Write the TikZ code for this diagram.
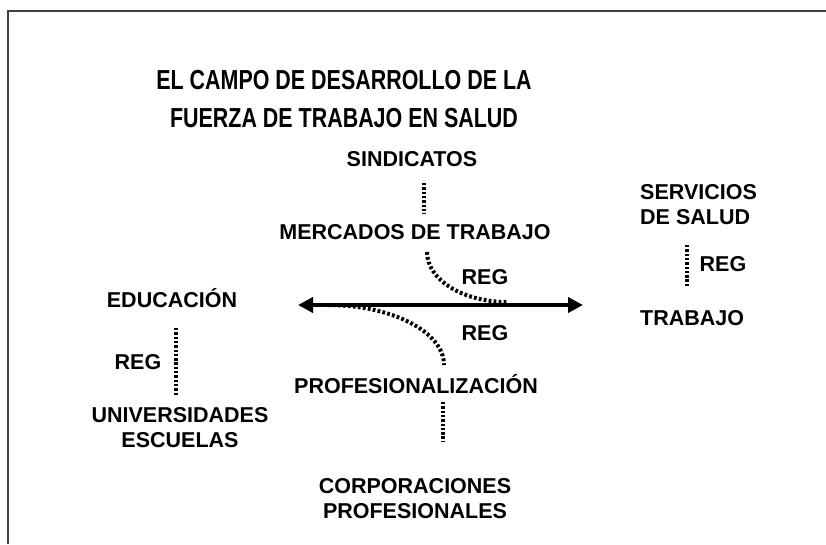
\documentclass[tikz,border=0pt]{standalone}
\usepackage{fontspec}
\setmainfont{Liberation Sans}
\newfontfamily\titlefont{Liberation Sans}[FakeStretch=0.78]
\usetikzlibrary{arrows.meta}
\tikzset{
  lbl/.style={font=\bfseries\fontsize{21.5}{25}\selectfont, inner sep=0pt, align=center},
  ttl/.style={font=\titlefont\bfseries\fontsize{27.5}{38}\selectfont, inner sep=0pt, align=center},
  dots/.style={line width=4.5pt, dash pattern=on 2.4pt off 1.9pt},
  curvy/.style={line width=4pt, dash pattern=on 2.8pt off 2.2pt},
  frameline/.style={line width=2pt, black!75},
  bigarrow/.style={line width=4pt, {Triangle[length=15pt,width=15pt]}-{Triangle[length=15pt,width=15pt]}}
}
\begin{document}
\begin{tikzpicture}[x=1pt,y=-1pt]
\useasboundingbox (0,0) rectangle (826,544);
% frame
\coordinate (fTR) at (826,11);
\coordinate (fTL) at (8,11);
\coordinate (fBL) at (8,544);
\draw[frameline] (fTR) -- (fTL) -- (fBL);
% title
\node[ttl] (title) at (344,99) {EL CAMPO DE DESARROLLO DE LA\\FUERZA DE TRABAJO EN SALUD};
% labels
\node[lbl, anchor=base] (sind) at (412,166) {SINDICATOS};
\node[lbl, anchor=base] (merc) at (415,239) {MERCADOS DE TRABAJO};
\node[lbl, anchor=west, align=left] (serv) at (640,204.5) {SERVICIOS\\DE SALUD};
\node[lbl, anchor=base west] (trab) at (640,325) {TRABAJO};
\node[lbl, anchor=base] (regR) at (723,271) {REG};
\node[lbl, anchor=base] (educ) at (172,307) {EDUCACIÓN};
\node[lbl, anchor=base] (regL) at (138,369) {REG};
\node[lbl] (univ) at (180,427.5) {UNIVERSIDADES\\ESCUELAS};
\node[lbl, anchor=base] (prof) at (416,393) {PROFESIONALIZACIÓN};
\node[lbl] (corp) at (415,498.5) {CORPORACIONES\\PROFESIONALES};
\node[lbl, anchor=base] (regU) at (485,284) {REG};
\node[lbl, anchor=base] (regD) at (485,340) {REG};
% dotted connectors
\coordinate (d1a) at (424,183); \coordinate (d1b) at (424,214);
\coordinate (d2a) at (687,245); \coordinate (d2b) at (687,287);
\coordinate (d3a) at (176,328); \coordinate (d3b) at (176,395);
\coordinate (d4a) at (443,402); \coordinate (d4b) at (443,441);
\draw[dots] (d1a) -- (d1b);
\draw[dots] (d2a) -- (d2b);
\draw[dots] (d3a) -- (d3b);
\draw[dots] (d4a) -- (d4b);
% main arrow
\coordinate (aL) at (298,305);
\coordinate (aR) at (583,305);
\draw[bigarrow] (aL) -- (aR);
% curves
\coordinate (cUa) at (427,252); \coordinate (cUb) at (507,302);
\draw[curvy] (cUa) .. controls (427,279.6) and (462.8,302) .. (cUb);
\coordinate (cDa) at (328,305); \coordinate (cDb) at (444,365);
\draw[curvy] (cDa) .. controls (392,305) and (444,331.9) .. (cDb);
\end{tikzpicture}
\end{document}
